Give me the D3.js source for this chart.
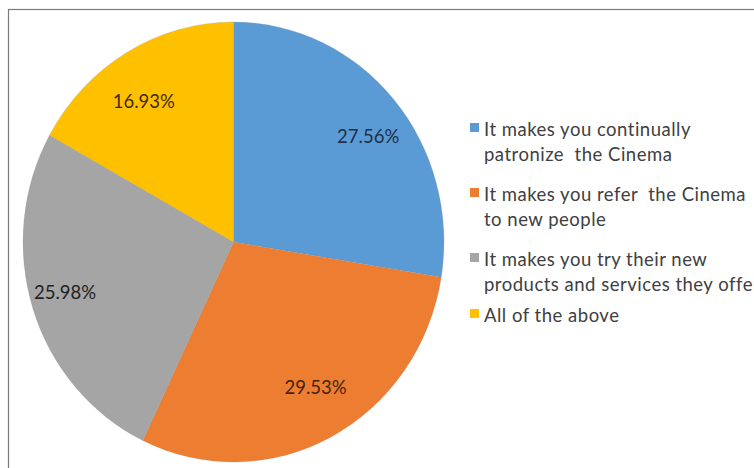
<!DOCTYPE html>
<html>
<head>
<meta charset="utf-8">
<script src="https://cdn.jsdelivr.net/npm/d3@7"></script>
<style>
  html, body { margin: 0; padding: 0; background: #fff; }
  svg { display: block; }
  text { white-space: pre; }
</style>
</head>
<body>
<svg id="chart" width="754" height="468"></svg>
<script>
// Survey responses: effect of the cinema's offer on customers (percent of respondents)
const categories = [
  "It makes you continually patronize  the Cinema",
  "It makes you refer  the Cinema to new people",
  "It makes you try their new products and services they offer",
  "All of the above"
];
const values = [27.56, 29.53, 25.98, 16.93];
const valueLabels = ["27.56%", "29.53%", "25.98%", "16.93%"];
// Legend text broken over lines as it is set beside the pie
const legendLines = [
  ["It makes you continually", "patronize  the Cinema"],
  ["It makes you refer  the Cinema", "to new people"],
  ["It makes you try their new", "products and services they offer"],
  ["All of the above"]
];
const colors = ["#5B9BD5", "#ED7D31", "#A5A5A5", "#FFC000"];
const labelColors = ["#1d2f48", "#45230a", "#222222", "#43290a"];

const W = 754, H = 468;
const svg = d3.select("#chart");

// Chart area border (left and top edges visible; box runs past the page)
svg.append("rect")
  .attr("x", 8.5).attr("y", 9.5)
  .attr("width", 800).attr("height", 500)
  .attr("fill", "none")
  .attr("stroke", "#7a7a7a")
  .attr("stroke-width", 1.2);

const cx = 233.5, cy = 242;
const rx = 210.5, ry = 220;
const yStretch = ry / rx;

const color = d3.scaleOrdinal().domain(categories).range(colors);

const pie = d3.pie()
  .value(d => d.value)
  .sort(null)
  .startAngle(0)
  .endAngle(2 * Math.PI);

const data = categories.map((c, i) => ({ name: c, value: values[i], label: valueLabels[i], i }));
const arcs = pie(data);

const arc = d3.arc().innerRadius(0).outerRadius(rx);

const pieG = svg.append("g")
  .attr("transform", `translate(${cx},${cy}) scale(1,${yStretch})`);

pieG.selectAll("path.slice")
  .data(arcs)
  .join("path")
  .attr("class", "slice")
  .attr("d", arc)
  .attr("fill", d => color(d.data.name))
  .attr("stroke", "#8c8c8c")
  .attr("stroke-opacity", 0.35)
  .attr("stroke-width", 0.6);

// Percentage labels sit on an inner elliptical ring, at each slice's mid-angle
const labelRx = rx * 0.84, labelRy = ry * 0.745;
const midAngle = d => (d.startAngle + d.endAngle) / 2;

svg.append("g")
  .selectAll("text")
  .data(arcs)
  .join("text")
  .attr("x", d => cx + labelRx * Math.sin(midAngle(d)))
  .attr("y", d => cy - labelRy * Math.cos(midAngle(d)))
  .attr("text-anchor", "middle")
  .attr("dominant-baseline", "central")
  .attr("font-family", "Lato, 'Open Sans', sans-serif")
  .attr("font-size", 18.5)
  .attr("fill", d => labelColors[d.data.i])
  .text(d => d.data.label);

// Legend
const legendX = 470, textX = 484;
const entryTops = [123, 188, 253, 309];
const lineGap = 25;
const legend = svg.append("g");
legendLines.forEach((lines, i) => {
  const g = legend.append("g");
  g.append("rect")
    .attr("x", legendX).attr("y", entryTops[i])
    .attr("width", 9).attr("height", 9)
    .attr("fill", colors[i]);
  g.append("text")
    .attr("x", textX)
    .attr("y", entryTops[i] + 13)
    .attr("font-family", "Lato, 'Open Sans', sans-serif")
    .attr("font-size", 18.5)
    .attr("letter-spacing", 0.5)
    .attr("fill", "#404040")
    .selectAll("tspan")
    .data(lines)
    .join("tspan")
    .attr("x", textX)
    .attr("dy", (d, k) => k === 0 ? 0 : lineGap)
    .text(d => d);
});
</script>
</body>
</html>
